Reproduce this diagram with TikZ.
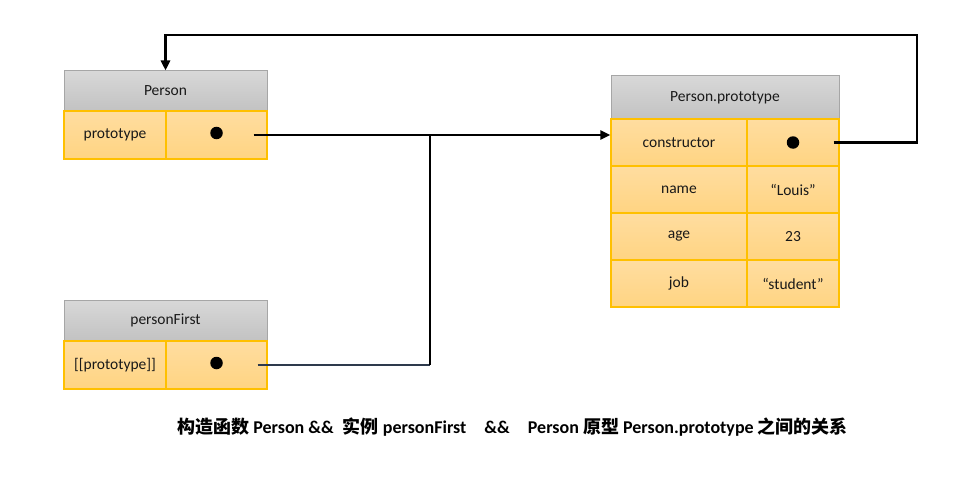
\documentclass[tikz,border=0pt]{standalone}
\usepackage{fontspec}
\setmainfont{Carlito}
\newfontfamily\cjk{Noto Sans CJK SC}
\usetikzlibrary{arrows.meta}

\definecolor{hdrtop}{HTML}{D8D8D8}
\definecolor{hdrbot}{HTML}{C2C2C2}
\definecolor{hdrline}{HTML}{A6A6A6}
\definecolor{celltop}{HTML}{FFDDA0}
\definecolor{cellbot}{HTML}{FFD482}
\definecolor{cellline}{HTML}{FFC000}
\definecolor{slate}{HTML}{2E3A4C}

\tikzset{
  hdr/.style={draw=hdrline, top color=hdrtop, bottom color=hdrbot,
    line width=1pt, inner sep=0pt, text=black!90},
  cell/.style={draw=cellline, top color=celltop, bottom color=cellbot,
    line width=1.2pt, inner sep=0pt, text=black!90},
  dot/.style={circle, fill=black, minimum size=12.5pt, inner sep=0pt},
  link/.style={line width=2.6pt, -{Triangle[length=10pt,width=9pt]}},
  wire/.style={line width=2.6pt}
}

\begin{document}
\begin{tikzpicture}[x=1pt,y=1pt]
  \useasboundingbox (0,0) rectangle (979,-484);
  \fontsize{15.5}{18}\selectfont

  % Person
  \node[hdr, minimum width=203pt, minimum height=40pt] (phead) at (165.5,-91) {Person};
  \node[cell, minimum width=102pt, minimum height=48pt] (pkey) at (115,-135) {prototype};
  \node[cell, minimum width=101pt, minimum height=48pt] (pval) at (216.5,-135) {};
  \node[dot] (pdot) at ([yshift=2pt]pval) {};

  % personFirst
  \node[hdr, minimum width=203pt, minimum height=41pt] (fhead) at (165.5,-320.5) {personFirst};
  \node[cell, minimum width=102pt, minimum height=48pt] (fkey) at (115,-365) {[[prototype]]};
  \node[cell, minimum width=101pt, minimum height=48pt] (fval) at (216.5,-365) {};
  \node[dot] (fdot) at ([yshift=2pt]fval) {};

  % Person.prototype
  \node[hdr, minimum width=228pt, minimum height=43pt] (thead) at (725,-97.5) {Person.prototype};
  \foreach \key/\val/\nm [count=\i from 0] in {constructor//c, name/“Louis”/n, age/23/a, job/“student”/j}{
    \node[cell, minimum width=136pt, minimum height=47pt] (\nm key) at (679,-142.5-47*\i) {\key};
    \node[cell, minimum width=92pt, minimum height=47pt] (\nm val) at (793,-142.5-47*\i) {\val};
  }
  \node[dot] (cdot) at (cval) {};

  % connectors
  \coordinate (join) at (430,-135);
  \coordinate (top) at (917,-35);
  \draw[link] ([xshift=-14pt]pval.east) -- (ckey.west |- pval.east);
  \draw[wire, slate] ([xshift=-10pt]fval.east) -- (join |- fval.east);
  \draw[wire] (join |- fval.east) -- (join);
  \draw[link] ([xshift=-6pt]cval.east) -| (top) -| (phead.north);

  \node[font=\bfseries\fontsize{18}{21}\selectfont] (caption) at (512.5,-427)
    {{\cjk 构造函数} Person \&\&\hspace{5pt} {\cjk 实例} personFirst\hspace{14pt} \&\&\hspace{14pt} Person {\cjk 原型} Person.prototype {\cjk 之间的关系}};
\end{tikzpicture}
\end{document}
